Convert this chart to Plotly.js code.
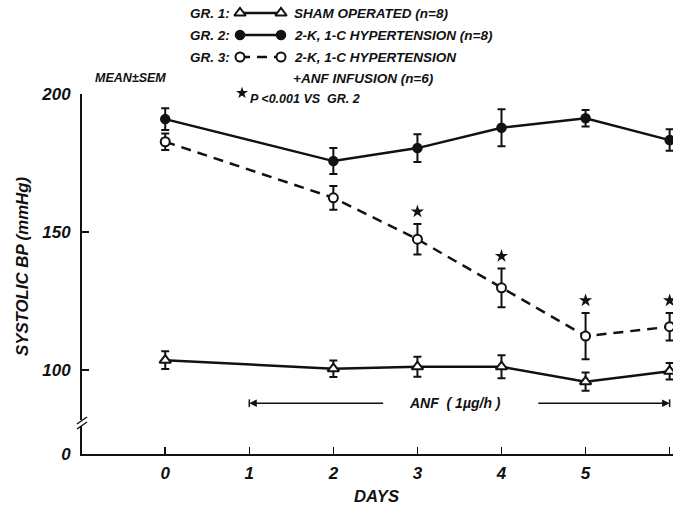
<!DOCTYPE html>
<html>
<head>
<meta charset="utf-8">
<script src="https://cdn.plot.ly/plotly-3.0.1.min.js"></script>
<style>
html,body{margin:0;padding:0;background:#fff}
#chart{width:673px;height:506px}
</style>
</head>
<body>
<div id="chart"></div>
<script>
// ---- data ----
const days = [0, 2, 3, 4, 5, 6];
const gr1Mean = [103.6, 100.5, 101.2, 101.2, 95.8, 99.6];
const gr1Sem  = [3.2, 3.0, 3.6, 4.2, 3.3, 3.0];
const gr2Mean = [190.9, 175.7, 180.4, 187.8, 191.2, 183.3];
const gr2Sem  = [3.9, 4.7, 5.0, 6.7, 3.0, 3.9];
const gr3Mean = [182.7, 162.4, 147.4, 129.8, 112.3, 115.7];
const gr3Sem  = [3.0, 4.3, 5.5, 7.0, 8.4, 5.0];
const significant = [false, false, true, true, true, true];
const xTicks = [0, 1, 2, 3, 4, 5, 6];
const yTickVals = [69.6, 100, 150, 200];
const yTickText = ['0', '100', '150', '200'];
const anfStartDay = 1, anfEndDay = 6;
const groupLabels = ['GR. 1:', 'GR. 2:', 'GR. 3:'];
const groupNames = ['SHAM OPERATED (n=8)', '2-K, 1-C HYPERTENSION (n=8)', '2-K, 1-C HYPERTENSION'];

// ---- styling ----
const FONT = 'Liberation Sans, Arial, sans-serif';
const INK = '#111';
const f = (size) => ({family: FONT, size: size, color: INK, style: 'italic', weight: 'bold'});

const starDays = [], starY = [];
days.forEach((d, i) => { if (significant[i]) { starDays.push(d); starY.push(gr3Mean[i] + gr3Sem[i] + 4.5); } });

const errStyle = (arr) => ({type: 'data', array: arr, visible: true, color: INK, thickness: 2, width: 4});

const traces = [
  {x: days, y: gr1Mean, mode: 'lines+markers', error_y: errStyle(gr1Sem),
   line: {color: INK, width: 2.5},
   marker: {symbol: 'triangle-up', size: 10, color: '#fff', line: {color: INK, width: 2}}},
  {x: days, y: gr3Mean, mode: 'lines+markers', error_y: errStyle(gr3Sem),
   line: {color: INK, width: 2.5, dash: '10px,7px'},
   marker: {symbol: 'circle', size: 9, color: '#fff', line: {color: INK, width: 2}}},
  {x: days, y: gr2Mean, mode: 'lines+markers', error_y: errStyle(gr2Sem),
   line: {color: INK, width: 2.5},
   marker: {symbol: 'circle', size: 10.5, color: INK}},
  {x: starDays, y: starY, mode: 'markers',
   marker: {symbol: 'star', size: 10, color: INK}},
  // legend samples on full-page overlay axes (pixel coordinates)
  {x: [240, 281], y: [13, 13], xaxis: 'x2', yaxis: 'y2', mode: 'lines+markers',
   line: {color: INK, width: 2.5},
   marker: {symbol: 'triangle-up', size: 10, color: '#fff', line: {color: INK, width: 2}}},
  {x: [240, 281], y: [35, 35], xaxis: 'x2', yaxis: 'y2', mode: 'lines+markers',
   line: {color: INK, width: 2.5},
   marker: {symbol: 'circle', size: 10.5, color: INK}},
  {x: [240, 281], y: [57, 57], xaxis: 'x2', yaxis: 'y2', mode: 'lines+markers',
   line: {color: INK, width: 2.5, dash: '10px,7px'},
   marker: {symbol: 'circle', size: 9, color: '#fff', line: {color: INK, width: 2}}},
  {x: [242], y: [93], xaxis: 'x2', yaxis: 'y2', mode: 'markers',
   marker: {symbol: 'star', size: 9, color: INK}}
];

const px = (t, x, y, size, anchor, extra) => Object.assign({
  text: t, x: x, y: y, xref: 'x2', yref: 'y2', showarrow: false,
  xanchor: anchor || 'left', yanchor: 'middle', font: f(size)}, extra || {});

const annotations = [
  px(groupLabels[0], 232, 13, 13.5, 'right'),
  px(groupLabels[1], 232, 35, 13.5, 'right'),
  px(groupLabels[2], 232, 57, 13.5, 'right'),
  px(groupNames[0], 292, 13, 13.5),
  px(groupNames[1], 292, 35, 13.5),
  px(groupNames[2], 292, 57, 13.5),
  px('+ANF INFUSION (n=6)', 291, 78, 13.5),
  px('MEAN±SEM', 130, 78, 12.5, 'center'),
  px('P &lt;0.001 VS  GR. 2', 248, 99, 12.5),
  px('SYSTOLIC BP (mmHg)', 22, 267, 16.8, 'center', {textangle: -90}),
  px('DAYS', 376, 496, 16.7, 'center'),
  {text: 'ANF  ( 1µg/h )', x: 3.45, y: 88, xref: 'x', yref: 'y', showarrow: false, font: f(14)},
  {text: '', x: anfStartDay, y: 88, ax: 2.61, ay: 88, xref: 'x', yref: 'y', axref: 'x', ayref: 'y',
   showarrow: true, arrowhead: 2, arrowsize: 1, arrowwidth: 1.5, arrowcolor: INK},
  {text: '', x: anfEndDay, y: 88, ax: 4.42, ay: 88, xref: 'x', yref: 'y', axref: 'x', ayref: 'y',
   showarrow: true, arrowhead: 2, arrowsize: 1, arrowwidth: 1.5, arrowcolor: INK}
];

const shapes = [
  {type: 'line', xref: 'x', yref: 'y', x0: anfStartDay, x1: anfStartDay, y0: 86.6, y1: 89.4, line: {color: INK, width: 1.5}},
  {type: 'line', xref: 'x', yref: 'y', x0: anfEndDay, x1: anfEndDay, y0: 86.6, y1: 89.4, line: {color: INK, width: 1.5}},
  // axis break
  {type: 'line', xref: 'x2', yref: 'y2', x0: 82, x1: 82, y0: 420, y1: 426, line: {color: '#fff', width: 5}},
  {type: 'line', xref: 'x2', yref: 'y2', x0: 77, x1: 87, y0: 424, y1: 417, line: {color: INK, width: 1.5}},
  {type: 'line', xref: 'x2', yref: 'y2', x0: 77, x1: 87, y0: 429, y1: 422, line: {color: INK, width: 1.5}}
];

const layout = {
  width: 673, height: 506,
  margin: {l: 0, r: 0, t: 0, b: 0},
  paper_bgcolor: '#fff', plot_bgcolor: 'rgba(0,0,0,0)',
  showlegend: false,
  font: f(14),
  xaxis: {domain: [82 / 673, 1], range: [-0.99, 6.04], anchor: 'y',
    tickmode: 'array', tickvals: xTicks, ticktext: xTicks.map(String),
    ticks: 'inside', ticklen: 7, tickwidth: 1.5, tickcolor: INK,
    showline: true, linecolor: INK, linewidth: 2, showgrid: false, zeroline: false,
    tickfont: f(17), ticklabelstandoff: 3, fixedrange: true},
  yaxis: {domain: [(506 - 454) / 506, (506 - 94) / 506], range: [69.6, 200], anchor: 'x',
    tickmode: 'array', tickvals: yTickVals, ticktext: yTickText,
    ticks: 'inside', ticklen: 7, tickwidth: 1.5, tickcolor: INK,
    showline: true, linecolor: INK, linewidth: 2, showgrid: false, zeroline: false,
    tickfont: f(17), ticklabelstandoff: 6, fixedrange: true},
  xaxis2: {domain: [0, 1], range: [0, 673], anchor: 'y2', visible: false, fixedrange: true},
  yaxis2: {domain: [0, 1], range: [506, 0], anchor: 'x2', visible: false, fixedrange: true},
  annotations: annotations,
  shapes: shapes
};

Plotly.newPlot('chart', traces, layout, {staticPlot: true, displayModeBar: false});
</script>
</body>
</html>
